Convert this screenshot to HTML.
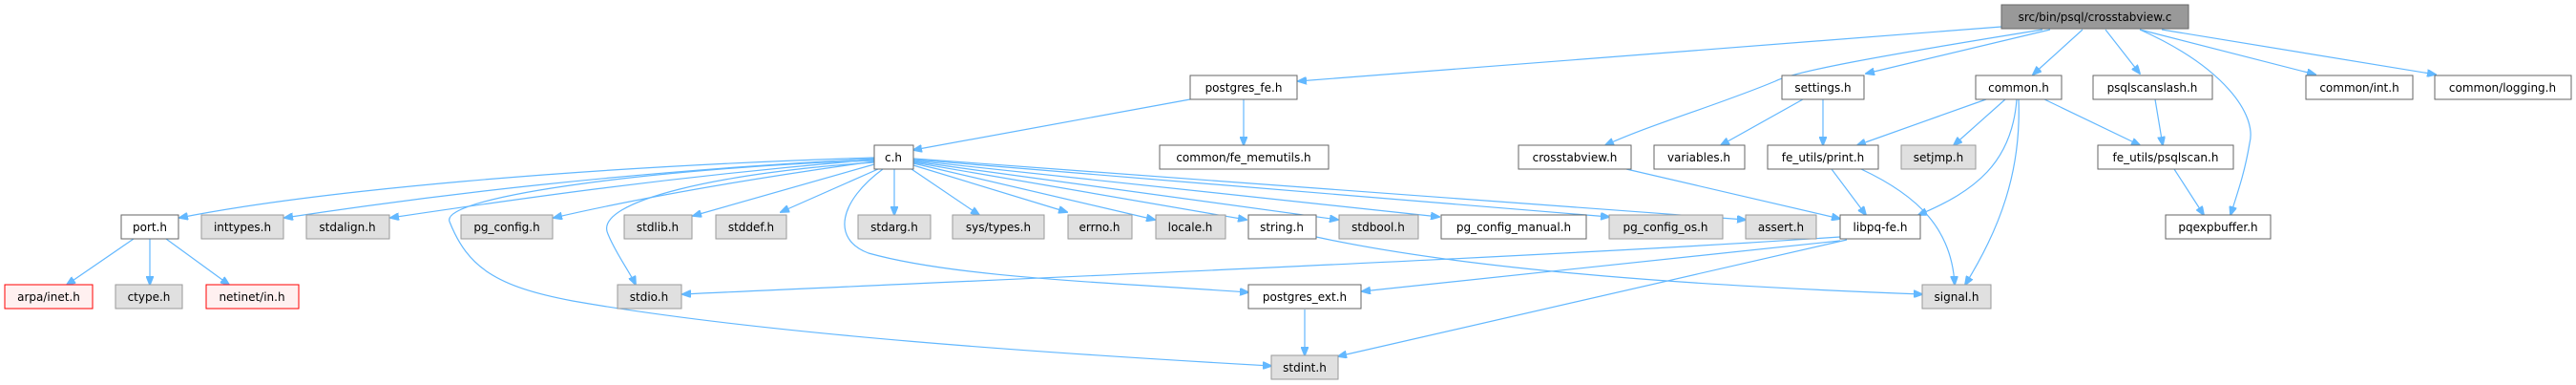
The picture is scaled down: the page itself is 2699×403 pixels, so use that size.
<!DOCTYPE html>
<html><head><meta charset="utf-8"><style>
html,body{margin:0;padding:0;background:#fff;}
svg{display:block;}
text{font-family:"DejaVu Sans","Liberation Sans",sans-serif;font-size:12px;fill:#000;}
.e{fill:none;stroke:#63b8ff;stroke-width:1.2;}
</style></head><body>
<svg width="2699" height="403" viewBox="0 0 2699 403" xmlns="http://www.w3.org/2000/svg">
<defs>
<marker id="a" markerWidth="10" markerHeight="8" refX="9" refY="4" orient="auto" markerUnits="userSpaceOnUse">
<polygon points="0,0 10,4 0,8" fill="#63b8ff" stroke="#63b8ff"/>
</marker>
</defs>
<g class="edges">
<path class="e" marker-end="url(#a)" d="M2097,28 L1360,85"/>
<path class="e" marker-end="url(#a)" d="M2140,31 C1960,60 1880,75 1860,85 C1800,110 1730,130 1682,152"/>
<path class="e" marker-end="url(#a)" d="M2148,31 L1955,77"/>
<path class="e" marker-end="url(#a)" d="M2182,31 L2130,78"/>
<path class="e" marker-end="url(#a)" d="M2206,31 L2242,77"/>
<path class="e" marker-end="url(#a)" d="M2242,31 C2330,70 2365,120 2357,150 C2352,180 2345,200 2337,225"/>
<path class="e" marker-end="url(#a)" d="M2242,31 L2426,78"/>
<path class="e" marker-end="url(#a)" d="M2265,31 L2552,78"/>
<path class="e" marker-end="url(#a)" d="M1889,104 L1803,152"/>
<path class="e" marker-end="url(#a)" d="M1910,104 L1910,152"/>
<path class="e" marker-end="url(#a)" d="M2081,104 L1946,152"/>
<path class="e" marker-end="url(#a)" d="M2101,104 L2047,152"/>
<path class="e" marker-end="url(#a)" d="M2113,104 C2108,170 2070,200 2010,225"/>
<path class="e" marker-end="url(#a)" d="M2115,104 C2118,180 2095,240 2059,298"/>
<path class="e" marker-end="url(#a)" d="M2142,104 L2242,152"/>
<path class="e" marker-end="url(#a)" d="M2258,104 L2266,152"/>
<path class="e" marker-end="url(#a)" d="M2278,177 L2309,225"/>
<path class="e" marker-end="url(#a)" d="M1919,177 L1955,225"/>
<path class="e" marker-end="url(#a)" d="M1950,177 C2010,205 2045,240 2048,298"/>
<path class="e" marker-end="url(#a)" d="M1704,177 L1928,229"/>
<path class="e" marker-end="url(#a)" d="M1928,248 C1600,270 1100,290 715,308"/>
<path class="e" marker-end="url(#a)" d="M1928,252 L1427,305"/>
<path class="e" marker-end="url(#a)" d="M1935,251 L1402,373"/>
<path class="e" marker-end="url(#a)" d="M1379,248 C1550,285 1800,300 2014,308"/>
<path class="e" marker-end="url(#a)" d="M1247,104 L957,157"/>
<path class="e" marker-end="url(#a)" d="M1303,104 L1303,152"/>
<path class="e" marker-end="url(#a)" d="M1367,324 L1367,372"/>
<path class="e" marker-end="url(#a)" d="M140,250 L70,298"/>
<path class="e" marker-end="url(#a)" d="M157,250 L157,298"/>
<path class="e" marker-end="url(#a)" d="M174,250 L240,298"/>
<path class="e" marker-end="url(#a)" d="M916,165 C600,175 330,200 188,228"/>
<path class="e" marker-end="url(#a)" d="M916,166 C650,180 450,205 298,228"/>
<path class="e" marker-end="url(#a)" d="M916,167 C700,185 530,210 409,228"/>
<path class="e" marker-end="url(#a)" d="M916,169 C800,185 680,205 580,228"/>
<path class="e" marker-end="url(#a)" d="M916,172 L726,226"/>
<path class="e" marker-end="url(#a)" d="M920,177 L818,222"/>
<path class="e" marker-end="url(#a)" d="M937,177 L937,225"/>
<path class="e" marker-end="url(#a)" d="M955,177 L1026,225"/>
<path class="e" marker-end="url(#a)" d="M957,173 L1118,222"/>
<path class="e" marker-end="url(#a)" d="M957,171 L1210,230"/>
<path class="e" marker-end="url(#a)" d="M957,170 L1306,230"/>
<path class="e" marker-end="url(#a)" d="M957,169 L1402,230"/>
<path class="e" marker-end="url(#a)" d="M957,168 L1508,227"/>
<path class="e" marker-end="url(#a)" d="M957,167 L1686,227"/>
<path class="e" marker-end="url(#a)" d="M957,166 L1829,230"/>
<path class="e" marker-end="url(#a)" d="M916,170 C760,180 620,210 637,245 C645,265 660,285 666,298"/>
<path class="e" marker-end="url(#a)" d="M925,177 C880,210 870,250 910,265 C1000,290 1150,295 1308,306"/>
<path class="e" marker-end="url(#a)" d="M916,168 C700,175 460,205 471,232 C490,280 520,300 600,315 C800,350 1100,370 1332,383"/>
</g>
<g stroke="#666" stroke-width="1">
<rect x="2097" y="5" width="196" height="25" fill="#999"/>
<rect x="1247" y="79" width="112" height="25" fill="#fff"/>
<rect x="1867" y="79" width="86" height="25" fill="#fff"/>
<rect x="2070" y="79" width="90" height="25" fill="#fff"/>
<rect x="2193" y="79" width="125" height="25" fill="#fff"/>
<rect x="2416" y="79" width="112" height="25" fill="#fff"/>
<rect x="2551" y="79" width="143" height="25" fill="#fff"/>
<rect x="916" y="152" width="41" height="25" fill="#fff"/>
<rect x="1215" y="152" width="177" height="25" fill="#fff"/>
<rect x="1591" y="152" width="118" height="25" fill="#fff"/>
<rect x="1733" y="152" width="95" height="25" fill="#fff"/>
<rect x="1852" y="152" width="116" height="25" fill="#fff"/>
<rect x="1992" y="152" width="78" height="25" fill="#e0e0e0" stroke="#999"/>
<rect x="2198" y="152" width="142" height="25" fill="#fff"/>
<rect x="127" y="225" width="60" height="25" fill="#fff"/>
<rect x="211" y="225" width="86" height="25" fill="#e0e0e0" stroke="#999"/>
<rect x="321" y="225" width="87" height="25" fill="#e0e0e0" stroke="#999"/>
<rect x="483" y="225" width="96" height="25" fill="#e0e0e0" stroke="#999"/>
<rect x="654" y="225" width="71" height="25" fill="#e0e0e0" stroke="#999"/>
<rect x="750" y="225" width="74" height="25" fill="#e0e0e0" stroke="#999"/>
<rect x="899" y="225" width="76" height="25" fill="#e0e0e0" stroke="#999"/>
<rect x="998" y="225" width="96" height="25" fill="#e0e0e0" stroke="#999"/>
<rect x="1119" y="225" width="67" height="25" fill="#e0e0e0" stroke="#999"/>
<rect x="1211" y="225" width="73" height="25" fill="#e0e0e0" stroke="#999"/>
<rect x="1308" y="225" width="71" height="25" fill="#fff"/>
<rect x="1403" y="225" width="83" height="25" fill="#e0e0e0" stroke="#999"/>
<rect x="1510" y="225" width="152" height="25" fill="#fff"/>
<rect x="1686" y="225" width="119" height="25" fill="#e0e0e0" stroke="#999"/>
<rect x="1829" y="225" width="74" height="25" fill="#e0e0e0" stroke="#999"/>
<rect x="1928" y="225" width="84" height="25" fill="#fff"/>
<rect x="2269" y="225" width="110" height="25" fill="#fff"/>
<rect x="5" y="298" width="92" height="25" fill="#fff0f0" stroke="#f00"/>
<rect x="121" y="298" width="70" height="25" fill="#e0e0e0" stroke="#999"/>
<rect x="216" y="298" width="97" height="25" fill="#fff0f0" stroke="#f00"/>
<rect x="647" y="298" width="67" height="25" fill="#e0e0e0" stroke="#999"/>
<rect x="1308" y="298" width="118" height="25" fill="#fff"/>
<rect x="2014" y="298" width="72" height="25" fill="#e0e0e0" stroke="#999"/>
<rect x="1332" y="372" width="70" height="25" fill="#e0e0e0" stroke="#999"/>
</g>
<g text-anchor="middle">
<text x="2195" y="22">src/bin/psql/crosstabview.c</text>
<text x="1303" y="96">postgres_fe.h</text>
<text x="1910" y="96">settings.h</text>
<text x="2115" y="96">common.h</text>
<text x="2255" y="96">psqlscanslash.h</text>
<text x="2472" y="96">common/int.h</text>
<text x="2622" y="96">common/logging.h</text>
<text x="936" y="169">c.h</text>
<text x="1303" y="169">common/fe_memutils.h</text>
<text x="1650" y="169">crosstabview.h</text>
<text x="1780" y="169">variables.h</text>
<text x="1910" y="169">fe_utils/print.h</text>
<text x="2031" y="169">setjmp.h</text>
<text x="2269" y="169">fe_utils/psqlscan.h</text>
<text x="157" y="242">port.h</text>
<text x="254" y="242">inttypes.h</text>
<text x="364" y="242">stdalign.h</text>
<text x="531" y="242">pg_config.h</text>
<text x="689" y="242">stdlib.h</text>
<text x="787" y="242">stddef.h</text>
<text x="937" y="242">stdarg.h</text>
<text x="1046" y="242">sys/types.h</text>
<text x="1152" y="242">errno.h</text>
<text x="1247" y="242">locale.h</text>
<text x="1343" y="242">string.h</text>
<text x="1444" y="242">stdbool.h</text>
<text x="1586" y="242">pg_config_manual.h</text>
<text x="1745" y="242">pg_config_os.h</text>
<text x="1866" y="242">assert.h</text>
<text x="1970" y="242">libpq-fe.h</text>
<text x="2324" y="242">pqexpbuffer.h</text>
<text x="51" y="315">arpa/inet.h</text>
<text x="156" y="315">ctype.h</text>
<text x="264" y="315">netinet/in.h</text>
<text x="680" y="315">stdio.h</text>
<text x="1367" y="315">postgres_ext.h</text>
<text x="2050" y="315">signal.h</text>
<text x="1367" y="389">stdint.h</text>
</g>
</svg>
</body></html>
